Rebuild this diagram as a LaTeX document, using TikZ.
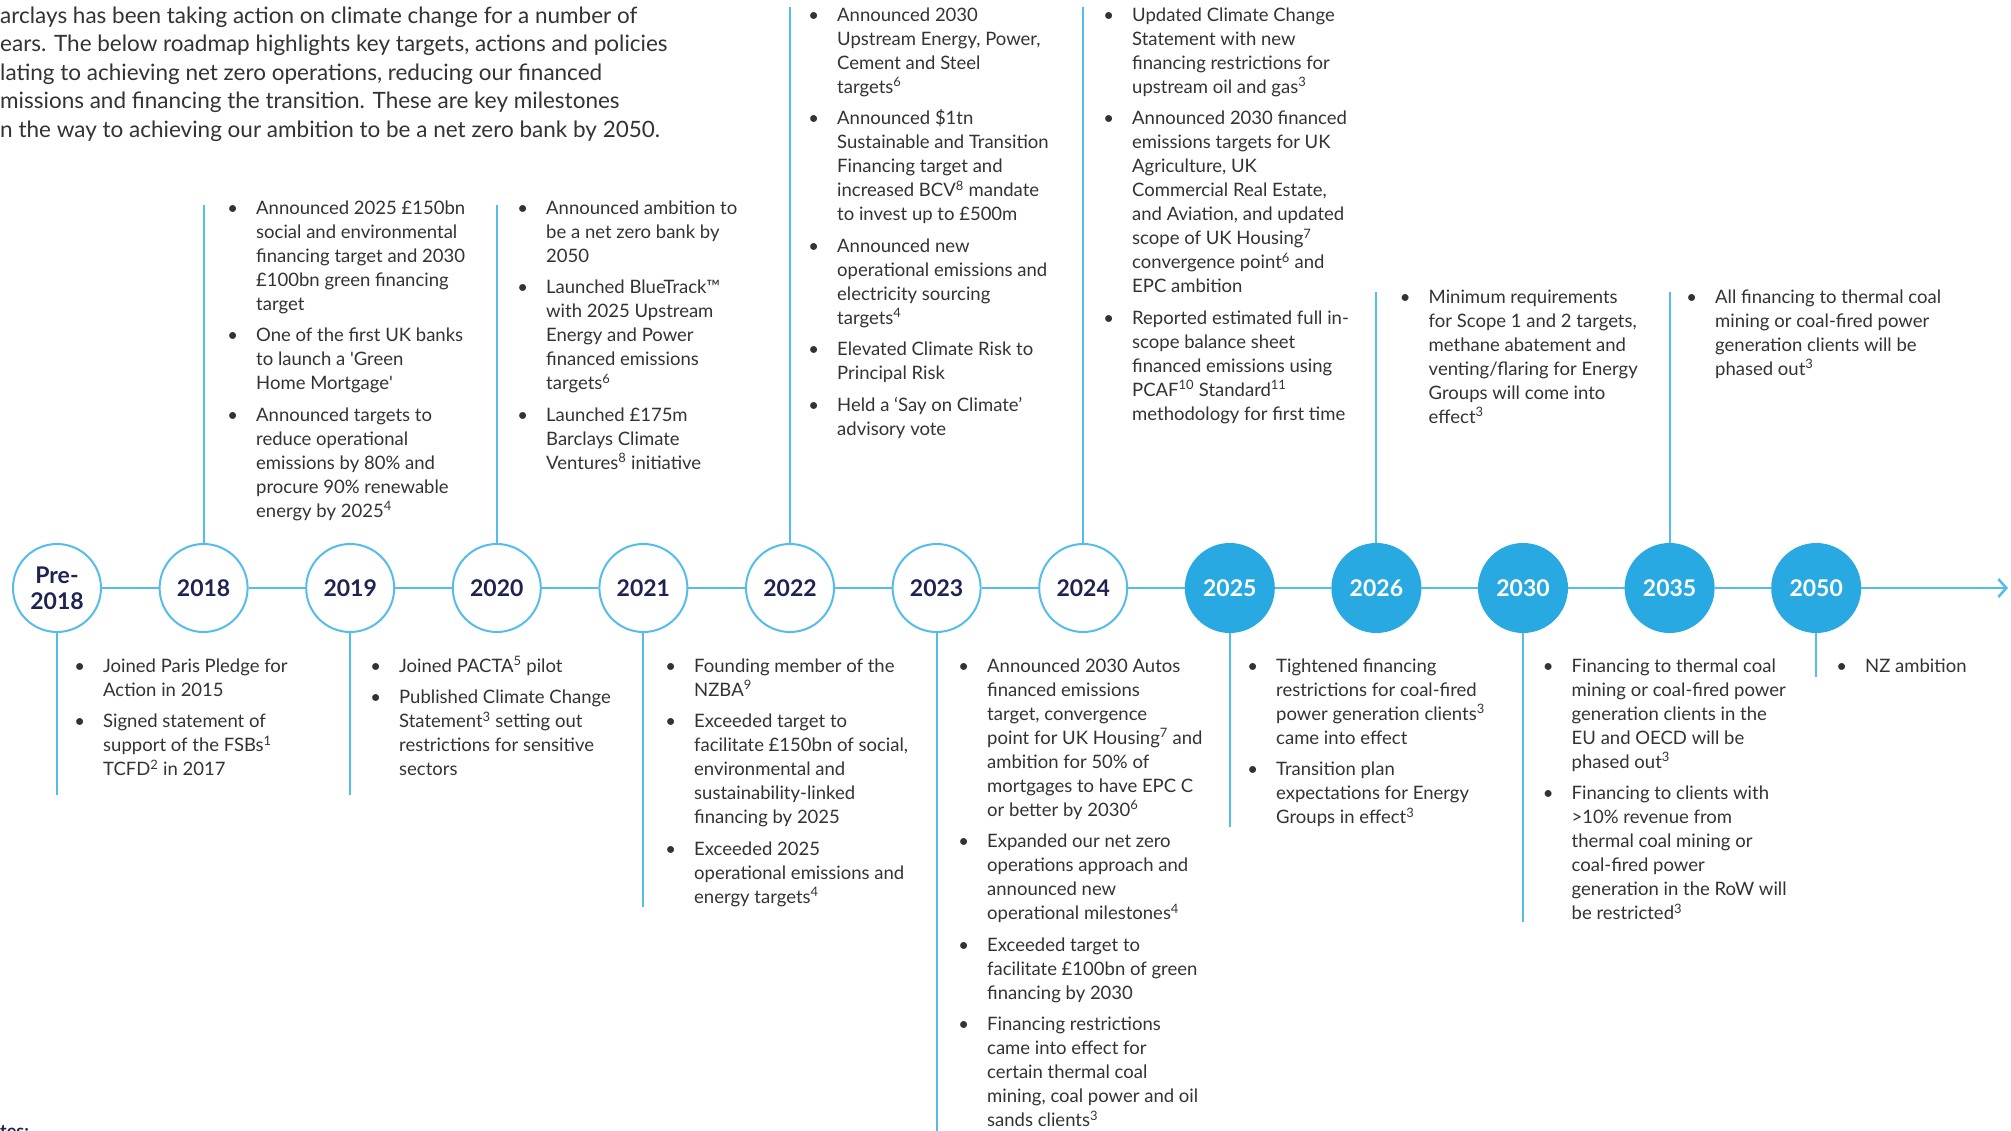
\documentclass[tikz,border=0pt]{standalone}
\usepackage{fontspec}
\setmainfont{Lato}
\usetikzlibrary{arrows.meta}
\definecolor{lblue}{HTML}{55BDEB}
\definecolor{fblue}{HTML}{29A9E1}
\definecolor{navy}{HTML}{1E2352}
\definecolor{tgray}{HTML}{333333}
\newcommand\bodyfont{\fontsize{18.5}{24}\selectfont}
\newcommand\yrfont{\fontsize{23}{26}\selectfont\bfseries}
\newcommand\introfont{\fontsize{22.5}{28.5}\selectfont}
\newcommand\bul{\strut\llap{\textbullet\hspace{18pt}}}
\newcommand\sps[1]{\textsuperscript{#1}}
\tikzset{
  yr/.style={circle, draw=lblue, line width=2pt, minimum size=88pt, inner sep=0pt, fill=white, text=navy, font=\yrfont, align=center},
  yrf/.style={yr, fill=fblue, draw=fblue, text=white},
  tl/.style={draw=lblue, line width=2.5pt},
  vl/.style={draw=lblue, line width=2pt},
  blk/.style={anchor=north west, inner sep=0pt, align=left, text=tgray, font=\bodyfont},
}
\begin{document}
\begin{tikzpicture}[x=1pt,y=-1pt]
\useasboundingbox[fill=white] (0,0) rectangle (2011,1131);

% intro
\node[anchor=north west, inner sep=0pt, align=left, text=tgray, font=\introfont] (intro) at (0,3.05)
{\strut arclays has been taking action on climate change for a number of\\
ears. The below roadmap highlights key targets, actions and policies\\
lating to achieving net zero operations, reducing our financed\\
missions and financing the transition. These are key milestones\\
n the way to achieving our ambition to be a net zero bank by 2050.};

% year circles
\node[yr] (c0) at (57,588) {Pre-\\2018};
\node[yr] (c1) at (203.6,588) {2018};
\node[yr] (c2) at (350.2,588) {2019};
\node[yr] (c3) at (496.8,588) {2020};
\node[yr] (c4) at (643.4,588) {2021};
\node[yr] (c5) at (790,588) {2022};
\node[yr] (c6) at (936.6,588) {2023};
\node[yr] (c7) at (1083.2,588) {2024};
\node[yrf] (c8) at (1229.8,588) {2025};
\node[yrf] (c9) at (1376.4,588) {2026};
\node[yrf] (c10) at (1523,588) {2030};
\node[yrf] (c11) at (1669.6,588) {2035};
\node[yrf] (c12) at (1816.2,588) {2050};
\coordinate (aend) at (2008,588);

% timeline
\draw[tl] (c0) -- (c1);
\draw[tl] (c1) -- (c2);
\draw[tl] (c2) -- (c3);
\draw[tl] (c3) -- (c4);
\draw[tl] (c4) -- (c5);
\draw[tl] (c5) -- (c6);
\draw[tl] (c6) -- (c7);
\draw[tl] (c7) -- (c8);
\draw[tl] (c8) -- (c9);
\draw[tl] (c9) -- (c10);
\draw[tl] (c10) -- (c11);
\draw[tl] (c11) -- (c12);
\draw[tl, -{Straight Barb[length=8pt,width=18pt]}] (c12) -- (aend);

% vertical connectors
\coordinate (u1) at (203.6,205);
\coordinate (u3) at (496.8,205);
\coordinate (u5) at (790,7);
\coordinate (u7) at (1083.2,7);
\coordinate (u9) at (1376.4,292);
\coordinate (u11) at (1669.6,292);
\coordinate (d0) at (57,795);
\coordinate (d2) at (350.2,795);
\coordinate (d4) at (643.4,907);
\coordinate (d6) at (936.6,1131);
\coordinate (d8) at (1229.8,827);
\coordinate (d10) at (1523,922);
\coordinate (d12) at (1816.2,677);
\draw[vl] (c1) -- (u1);
\draw[vl] (c3) -- (u3);
\draw[vl] (c5) -- (u5);
\draw[vl] (c7) -- (u7);
\draw[vl] (c9) -- (u9);
\draw[vl] (c11) -- (u11);
\draw[vl] (c0) -- (d0);
\draw[vl] (c2) -- (d2);
\draw[vl] (c4) -- (d4);
\draw[vl] (c6) -- (d6);
\draw[vl] (c8) -- (d8);
\draw[vl] (c10) -- (d10);
\draw[vl] (c12) -- (d12);

% upper text blocks
\node[blk] (t2018) at (256,197.2) {%
\bul Announced 2025 £150bn\\
social and environmental\\
financing target and 2030\\
£100bn green financing\\
target\\[7.5pt]
\bul One of the first UK banks\\
to launch a \textquotesingle Green\\
Home Mortgage\textquotesingle\\[7.5pt]
\bul Announced targets to\\
reduce operational\\
emissions by 80\% and\\
procure 90\% renewable\\
energy by 2025\sps{4}};

\node[blk] (t2020) at (546,197.2) {%
\bul Announced ambition to\\
be a net zero bank by\\
2050\\[7.5pt]
\bul Launched BlueTrack™\\
with 2025 Upstream\\
Energy and Power\\
financed emissions\\
targets\sps{6}\\[7.5pt]
\bul Launched £175m\\
Barclays Climate\\
Ventures\sps{8} initiative};

\node[blk] (t2022) at (837,4.2) {%
\bul Announced 2030\\
Upstream Energy, Power,\\
Cement and Steel\\
targets\sps{6}\\[7.5pt]
\bul Announced \$1tn\\
Sustainable and Transition\\
Financing target and\\
increased BCV\sps{8} mandate\\
to invest up to £500m\\[7.5pt]
\bul Announced new\\
operational emissions and\\
electricity sourcing\\
targets\sps{4}\\[7.5pt]
\bul Elevated Climate Risk to\\
Principal Risk\\[7.5pt]
\bul Held a ‘Say on Climate’\\
advisory vote};

\node[blk] (t2024) at (1132,4.2) {%
\bul Updated Climate Change\\
Statement with new\\
financing restrictions for\\
upstream oil and gas\sps{3}\\[7.5pt]
\bul Announced 2030 financed\\
emissions targets for UK\\
Agriculture, UK\\
Commercial Real Estate,\\
and Aviation, and updated\\
scope of UK Housing\sps{7}\\
convergence point\sps{6} and\\
EPC ambition\\[7.5pt]
\bul Reported estimated full in-\\
scope balance sheet\\
financed emissions using\\
PCAF\sps{10} Standard\sps{11}\\
methodology for first time};

\node[blk] (t2026) at (1428.5,286.2) {%
\bul Minimum requirements\\
for Scope 1 and 2 targets,\\
methane abatement and\\
venting/flaring for Energy\\
Groups will come into\\
effect\sps{3}};

\node[blk] (t2035) at (1715,286.2) {%
\bul All financing to thermal coal\\
mining or coal-fired power\\
generation clients will be\\
phased out\sps{3}};

% lower text blocks
\node[blk] (tpre) at (103,655.2) {%
\bul Joined Paris Pledge for\\
Action in 2015\\[7.5pt]
\bul Signed statement of\\
support of the FSBs\sps{1}\\
TCFD\sps{2} in 2017};

\node[blk] (t2019) at (399,655.2) {%
\bul Joined PACTA\sps{5} pilot\\[7.5pt]
\bul Published Climate Change\\
Statement\sps{3} setting out\\
restrictions for sensitive\\
sectors};

\node[blk] (t2021) at (694,655.2) {%
\bul Founding member of the\\
NZBA\sps{9}\\[7.5pt]
\bul Exceeded target to\\
facilitate £150bn of social,\\
environmental and\\
sustainability-linked\\
financing by 2025\\[7.5pt]
\bul Exceeded 2025\\
operational emissions and\\
energy targets\sps{4}};

\node[blk] (t2023) at (987,655.2) {%
\bul Announced 2030 Autos\\
financed emissions\\
target, convergence\\
point for UK Housing\sps{7} and\\
ambition for 50\% of\\
mortgages to have EPC C\\
or better by 2030\sps{6}\\[7.5pt]
\bul Expanded our net zero\\
operations approach and\\
announced new\\
operational milestones\sps{4}\\[7.5pt]
\bul Exceeded target to\\
facilitate £100bn of green\\
financing by 2030\\[7.5pt]
\bul Financing restrictions\\
came into effect for\\
certain thermal coal\\
mining, coal power and oil\\
sands clients\sps{3}};

\node[blk] (t2025) at (1276,655.2) {%
\bul Tightened financing\\
restrictions for coal-fired\\
power generation clients\sps{3}\\
came into effect\\[7.5pt]
\bul Transition plan\\
expectations for Energy\\
Groups in effect\sps{3}};

\node[blk] (t2030) at (1571.5,655.2) {%
\bul Financing to thermal coal\\
mining or coal-fired power\\
generation clients in the\\
EU and OECD will be\\
phased out\sps{3}\\[7.5pt]
\bul Financing to clients with\\
>10\% revenue from\\
thermal coal mining or\\
coal-fired power\\
generation in the RoW will\\
be restricted\sps{3}};

\node[blk] (t2050) at (1865,655.2) {%
\bul NZ ambition};

% cut-off notes heading
\node[anchor=base west, inner sep=0pt, text=navy, font=\fontsize{18}{20}\selectfont\bfseries] (notes) at (0,1137) {tes:};
\end{tikzpicture}
\end{document}
